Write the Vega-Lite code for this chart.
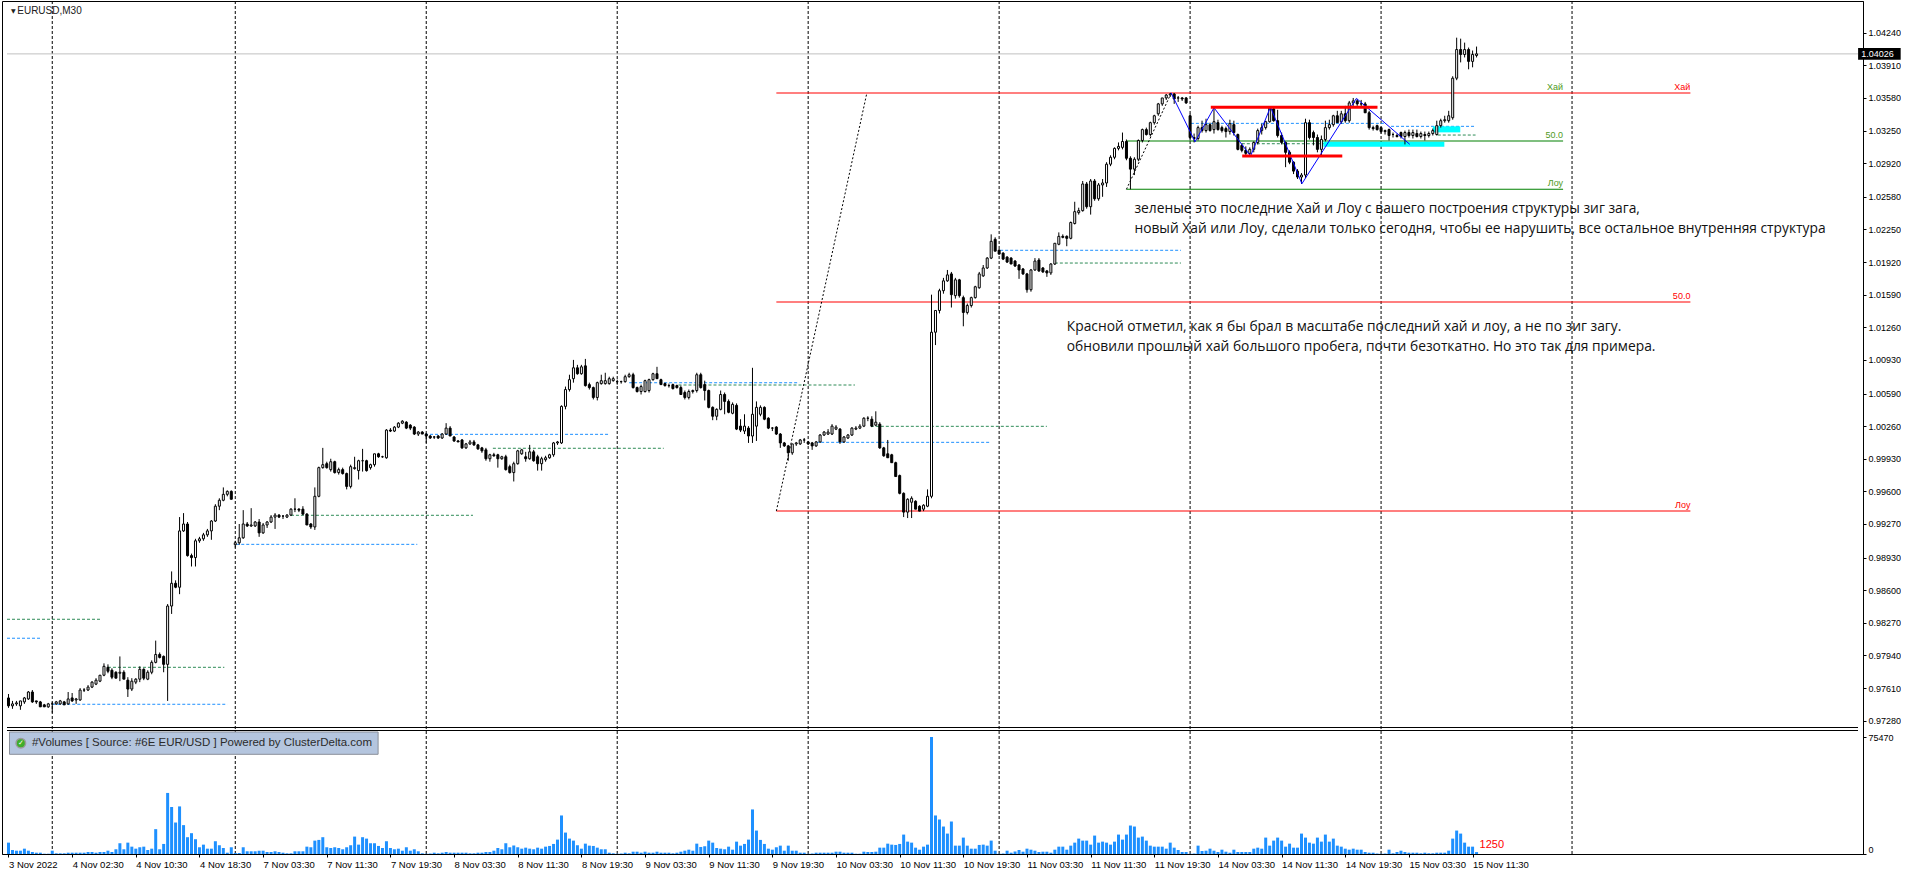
{
  "$schema": "https://vega.github.io/schema/vega-lite/v6.json",
  "background": "white",
  "width": 1861,
  "height": 853,
  "padding": {"left": 2, "top": 0, "right": 0, "bottom": 0},
  "config": {
    "view": {"stroke": "black", "strokeWidth": 1},
    "axis": {"grid": false, "labelFont": "Liberation Sans", "labelColor": "black", "domainColor": "black", "tickColor": "black"}
  },
  "datasets": {
    "bars": [
      {"i":0,"o":0.9751,"h":0.9755,"l":0.9741,"c":0.9743,"v":7330},
      {"i":1,"o":0.9743,"h":0.9748,"l":0.9740,"c":0.9745,"v":2600},
      {"i":2,"o":0.9745,"h":0.9748,"l":0.9743,"c":0.9746,"v":2140},
      {"i":3,"o":0.9743,"h":0.9748,"l":0.9739,"c":0.9748,"v":2140},
      {"i":4,"o":0.9747,"h":0.9752,"l":0.9745,"c":0.9751,"v":3440},
      {"i":5,"o":0.9750,"h":0.9758,"l":0.9749,"c":0.9757,"v":2140},
      {"i":6,"o":0.9757,"h":0.9759,"l":0.9746,"c":0.9747,"v":1300},
      {"i":7,"o":0.9748,"h":0.9748,"l":0.9745,"c":0.9747,"v":840},
      {"i":8,"o":0.9747,"h":0.9748,"l":0.9742,"c":0.9742,"v":840},
      {"i":9,"o":0.9744,"h":0.9745,"l":0.9742,"c":0.9742,"v":190},
      {"i":10,"o":0.9742,"h":0.9746,"l":0.9741,"c":0.9745,"v":190},
      {"i":11,"o":0.9745,"h":0.9747,"l":0.9736,"c":0.9745,"v":2140},
      {"i":12,"o":0.9745,"h":0.9748,"l":0.9744,"c":0.9747,"v":450},
      {"i":13,"o":0.9745,"h":0.9749,"l":0.9744,"c":0.9748,"v":450},
      {"i":14,"o":0.9747,"h":0.9748,"l":0.9744,"c":0.9744,"v":450},
      {"i":15,"o":0.9745,"h":0.9757,"l":0.9744,"c":0.9750,"v":840},
      {"i":16,"o":0.9751,"h":0.9756,"l":0.9747,"c":0.9748,"v":840},
      {"i":17,"o":0.9749,"h":0.9751,"l":0.9745,"c":0.9750,"v":840},
      {"i":18,"o":0.9749,"h":0.9761,"l":0.9748,"c":0.9759,"v":840},
      {"i":19,"o":0.9759,"h":0.9761,"l":0.9757,"c":0.9759,"v":840},
      {"i":20,"o":0.9759,"h":0.9764,"l":0.9758,"c":0.9762,"v":1300},
      {"i":21,"o":0.9762,"h":0.9768,"l":0.9761,"c":0.9767,"v":1300},
      {"i":22,"o":0.9765,"h":0.9771,"l":0.9764,"c":0.9769,"v":840},
      {"i":23,"o":0.9768,"h":0.9774,"l":0.9767,"c":0.9774,"v":1300},
      {"i":24,"o":0.9774,"h":0.9786,"l":0.9773,"c":0.9783,"v":1300},
      {"i":25,"o":0.9782,"h":0.9785,"l":0.9776,"c":0.9778,"v":2140},
      {"i":26,"o":0.9779,"h":0.9781,"l":0.9770,"c":0.9772,"v":1300},
      {"i":27,"o":0.9777,"h":0.9778,"l":0.9771,"c":0.9771,"v":3050},
      {"i":28,"o":0.9776,"h":0.9793,"l":0.9768,"c":0.9777,"v":6940},
      {"i":29,"o":0.9777,"h":0.9779,"l":0.9770,"c":0.9770,"v":3050},
      {"i":30,"o":0.9769,"h":0.9772,"l":0.9752,"c":0.9760,"v":7330},
      {"i":31,"o":0.9760,"h":0.9771,"l":0.9758,"c":0.9768,"v":4740},
      {"i":32,"o":0.9767,"h":0.9771,"l":0.9765,"c":0.9770,"v":3440},
      {"i":33,"o":0.9770,"h":0.9783,"l":0.9767,"c":0.9780,"v":4350},
      {"i":34,"o":0.9780,"h":0.9781,"l":0.9769,"c":0.9771,"v":4740},
      {"i":35,"o":0.9770,"h":0.9779,"l":0.9769,"c":0.9777,"v":2600},
      {"i":36,"o":0.9777,"h":0.9789,"l":0.9775,"c":0.9787,"v":3440},
      {"i":37,"o":0.9787,"h":0.9809,"l":0.9786,"c":0.9795,"v":16030},
      {"i":38,"o":0.9795,"h":0.9797,"l":0.9791,"c":0.9792,"v":3050},
      {"i":39,"o":0.9793,"h":0.9794,"l":0.9777,"c":0.9785,"v":6490},
      {"i":40,"o":0.9785,"h":0.9846,"l":0.9748,"c":0.9844,"v":39390},
      {"i":41,"o":0.9844,"h":0.9879,"l":0.9836,"c":0.9867,"v":30310},
      {"i":42,"o":0.9867,"h":0.9870,"l":0.9862,"c":0.9863,"v":20310},
      {"i":43,"o":0.9863,"h":0.9934,"l":0.9856,"c":0.9920,"v":30700},
      {"i":44,"o":0.9920,"h":0.9938,"l":0.9919,"c":0.9927,"v":18630},
      {"i":45,"o":0.9927,"h":0.9929,"l":0.9894,"c":0.9895,"v":10840},
      {"i":46,"o":0.9895,"h":0.9897,"l":0.9884,"c":0.9893,"v":13430},
      {"i":47,"o":0.9893,"h":0.9912,"l":0.9884,"c":0.9910,"v":9540},
      {"i":48,"o":0.9910,"h":0.9914,"l":0.9908,"c":0.9912,"v":4350},
      {"i":49,"o":0.9912,"h":0.9918,"l":0.9910,"c":0.9916,"v":6040},
      {"i":50,"o":0.9916,"h":0.9922,"l":0.9914,"c":0.9920,"v":3440},
      {"i":51,"o":0.9920,"h":0.9931,"l":0.9911,"c":0.9930,"v":3440},
      {"i":52,"o":0.9930,"h":0.9947,"l":0.9929,"c":0.9945,"v":8240},
      {"i":53,"o":0.9945,"h":0.9953,"l":0.9941,"c":0.9951,"v":5650},
      {"i":54,"o":0.9951,"h":0.9964,"l":0.9950,"c":0.9957,"v":3890},
      {"i":55,"o":0.9957,"h":0.9961,"l":0.9955,"c":0.9960,"v":840},
      {"i":56,"o":0.9960,"h":0.9961,"l":0.9952,"c":0.9952,"v":4350},
      {"i":57,"o":0.9906,"h":0.9910,"l":0.9903,"c":0.9908,"v":650},
      {"i":58,"o":0.9908,"h":0.9927,"l":0.9906,"c":0.9913,"v":650},
      {"i":59,"o":0.9913,"h":0.9941,"l":0.9912,"c":0.9927,"v":4350},
      {"i":60,"o":0.9927,"h":0.9929,"l":0.9924,"c":0.9925,"v":1750},
      {"i":61,"o":0.9925,"h":0.9943,"l":0.9924,"c":0.9926,"v":1750},
      {"i":62,"o":0.9925,"h":0.9930,"l":0.9924,"c":0.9929,"v":1750},
      {"i":63,"o":0.9929,"h":0.9932,"l":0.9914,"c":0.9918,"v":2140},
      {"i":64,"o":0.9918,"h":0.9928,"l":0.9917,"c":0.9926,"v":2140},
      {"i":65,"o":0.9926,"h":0.9930,"l":0.9923,"c":0.9929,"v":1300},
      {"i":66,"o":0.9929,"h":0.9936,"l":0.9928,"c":0.9934,"v":1300},
      {"i":67,"o":0.9934,"h":0.9938,"l":0.9922,"c":0.9936,"v":1750},
      {"i":68,"o":0.9936,"h":0.9937,"l":0.9933,"c":0.9934,"v":1300},
      {"i":69,"o":0.9935,"h":0.9936,"l":0.9932,"c":0.9935,"v":840},
      {"i":70,"o":0.9934,"h":0.9937,"l":0.9933,"c":0.9936,"v":450},
      {"i":71,"o":0.9936,"h":0.9943,"l":0.9935,"c":0.9942,"v":450},
      {"i":72,"o":0.9942,"h":0.9953,"l":0.9939,"c":0.9942,"v":1750},
      {"i":73,"o":0.9942,"h":0.9943,"l":0.9939,"c":0.9941,"v":1750},
      {"i":74,"o":0.9942,"h":0.9945,"l":0.9936,"c":0.9937,"v":1750},
      {"i":75,"o":0.9937,"h":0.9938,"l":0.9926,"c":0.9926,"v":4740},
      {"i":76,"o":0.9927,"h":0.9928,"l":0.9922,"c":0.9924,"v":4350},
      {"i":77,"o":0.9924,"h":0.9964,"l":0.9921,"c":0.9955,"v":8630},
      {"i":78,"o":0.9955,"h":0.9985,"l":0.9954,"c":0.9984,"v":9090},
      {"i":79,"o":0.9984,"h":1.0004,"l":0.9983,"c":0.9987,"v":10840},
      {"i":80,"o":0.9988,"h":0.9990,"l":0.9983,"c":0.9984,"v":4350},
      {"i":81,"o":0.9982,"h":0.9993,"l":0.9980,"c":0.9990,"v":3890},
      {"i":82,"o":0.9990,"h":0.9991,"l":0.9978,"c":0.9979,"v":4350},
      {"i":83,"o":0.9979,"h":0.9984,"l":0.9977,"c":0.9982,"v":3890},
      {"i":84,"o":0.9982,"h":0.9984,"l":0.9977,"c":0.9978,"v":3050},
      {"i":85,"o":0.9978,"h":0.9979,"l":0.9962,"c":0.9965,"v":4350},
      {"i":86,"o":0.9965,"h":0.9987,"l":0.9963,"c":0.9985,"v":5650},
      {"i":87,"o":0.9983,"h":0.9995,"l":0.9982,"c":0.9984,"v":11230},
      {"i":88,"o":0.9981,"h":0.9992,"l":0.9972,"c":0.9991,"v":6040},
      {"i":89,"o":0.9991,"h":1.0003,"l":0.9980,"c":0.9991,"v":10840},
      {"i":90,"o":0.9991,"h":0.9992,"l":0.9980,"c":0.9981,"v":9930},
      {"i":91,"o":0.9984,"h":0.9988,"l":0.9982,"c":0.9987,"v":6940},
      {"i":92,"o":0.9987,"h":0.9998,"l":0.9985,"c":0.9998,"v":6940},
      {"i":93,"o":0.9998,"h":0.9999,"l":0.9994,"c":0.9995,"v":5190},
      {"i":94,"o":0.9995,"h":0.9996,"l":0.9994,"c":0.9995,"v":3890},
      {"i":95,"o":0.9994,"h":1.0023,"l":0.9993,"c":1.0022,"v":8240},
      {"i":96,"o":1.0022,"h":1.0024,"l":1.0020,"c":1.0021,"v":3890},
      {"i":97,"o":1.0021,"h":1.0026,"l":1.0020,"c":1.0025,"v":3050},
      {"i":98,"o":1.0025,"h":1.0030,"l":1.0024,"c":1.0029,"v":3440},
      {"i":99,"o":1.0029,"h":1.0032,"l":1.0028,"c":1.0031,"v":2140},
      {"i":100,"o":1.0030,"h":1.0031,"l":1.0023,"c":1.0024,"v":4350},
      {"i":101,"o":1.0027,"h":1.0028,"l":1.0022,"c":1.0024,"v":2140},
      {"i":102,"o":1.0025,"h":1.0026,"l":1.0017,"c":1.0018,"v":3050},
      {"i":103,"o":1.0018,"h":1.0021,"l":1.0016,"c":1.0020,"v":1750},
      {"i":104,"o":1.0020,"h":1.0021,"l":1.0018,"c":1.0018,"v":450},
      {"i":105,"o":1.0018,"h":1.0019,"l":1.0009,"c":1.0016,"v":190},
      {"i":106,"o":1.0016,"h":1.0017,"l":1.0013,"c":1.0014,"v":320},
      {"i":107,"o":1.0015,"h":1.0016,"l":1.0013,"c":1.0015,"v":840},
      {"i":108,"o":1.0016,"h":1.0017,"l":1.0013,"c":1.0014,"v":450},
      {"i":109,"o":1.0014,"h":1.0019,"l":1.0013,"c":1.0018,"v":840},
      {"i":110,"o":1.0018,"h":1.0029,"l":1.0017,"c":1.0024,"v":1300},
      {"i":111,"o":1.0024,"h":1.0026,"l":1.0016,"c":1.0016,"v":840},
      {"i":112,"o":1.0015,"h":1.0016,"l":1.0010,"c":1.0011,"v":840},
      {"i":113,"o":1.0011,"h":1.0012,"l":1.0010,"c":1.0010,"v":840},
      {"i":114,"o":1.0012,"h":1.0013,"l":1.0003,"c":1.0004,"v":840},
      {"i":115,"o":1.0004,"h":1.0009,"l":1.0003,"c":1.0008,"v":840},
      {"i":116,"o":1.0008,"h":1.0012,"l":1.0007,"c":1.0010,"v":450},
      {"i":117,"o":1.0010,"h":1.0012,"l":1.0006,"c":1.0007,"v":450},
      {"i":118,"o":1.0007,"h":1.0008,"l":1.0002,"c":1.0003,"v":840},
      {"i":119,"o":1.0004,"h":1.0005,"l":0.9999,"c":1.0001,"v":840},
      {"i":120,"o":1.0002,"h":1.0004,"l":0.9991,"c":0.9993,"v":1300},
      {"i":121,"o":0.9993,"h":0.9998,"l":0.9990,"c":0.9997,"v":1300},
      {"i":122,"o":0.9997,"h":0.9999,"l":0.9995,"c":0.9996,"v":2140},
      {"i":123,"o":0.9997,"h":0.9998,"l":0.9984,"c":0.9993,"v":3890},
      {"i":124,"o":0.9993,"h":0.9996,"l":0.9992,"c":0.9995,"v":3050},
      {"i":125,"o":0.9995,"h":0.9997,"l":0.9981,"c":0.9982,"v":6940},
      {"i":126,"o":0.9985,"h":0.9987,"l":0.9978,"c":0.9979,"v":4350},
      {"i":127,"o":0.9979,"h":0.9990,"l":0.9970,"c":0.9988,"v":5520},
      {"i":128,"o":0.9988,"h":1.0002,"l":0.9987,"c":1.0001,"v":4350},
      {"i":129,"o":0.9998,"h":1.0003,"l":0.9997,"c":1.0002,"v":3440},
      {"i":130,"o":0.9995,"h":1.0000,"l":0.9990,"c":0.9993,"v":4090},
      {"i":131,"o":0.9993,"h":1.0007,"l":0.9992,"c":1.0000,"v":3440},
      {"i":132,"o":1.0000,"h":1.0002,"l":0.9990,"c":0.9991,"v":3050},
      {"i":133,"o":0.9995,"h":0.9997,"l":0.9981,"c":0.9988,"v":4090},
      {"i":134,"o":0.9988,"h":0.9995,"l":0.9981,"c":0.9993,"v":3440},
      {"i":135,"o":0.9992,"h":0.9996,"l":0.9990,"c":0.9994,"v":4740},
      {"i":136,"o":0.9994,"h":0.9998,"l":0.9993,"c":0.9997,"v":5190},
      {"i":137,"o":0.9997,"h":1.0010,"l":0.9995,"c":1.0009,"v":6490},
      {"i":138,"o":1.0009,"h":1.0011,"l":1.0007,"c":1.0010,"v":9280},
      {"i":139,"o":1.0009,"h":1.0047,"l":1.0008,"c":1.0046,"v":24860},
      {"i":140,"o":1.0046,"h":1.0066,"l":1.0043,"c":1.0063,"v":13820},
      {"i":141,"o":1.0063,"h":1.0078,"l":1.0061,"c":1.0073,"v":9930},
      {"i":142,"o":1.0074,"h":1.0093,"l":1.0070,"c":1.0085,"v":8630},
      {"i":143,"o":1.0085,"h":1.0088,"l":1.0078,"c":1.0079,"v":5650},
      {"i":144,"o":1.0079,"h":1.0088,"l":1.0078,"c":1.0086,"v":3440},
      {"i":145,"o":1.0087,"h":1.0094,"l":1.0066,"c":1.0067,"v":6680},
      {"i":146,"o":1.0068,"h":1.0070,"l":1.0063,"c":1.0065,"v":5390},
      {"i":147,"o":1.0065,"h":1.0066,"l":1.0053,"c":1.0055,"v":5190},
      {"i":148,"o":1.0055,"h":1.0071,"l":1.0052,"c":1.0070,"v":4090},
      {"i":149,"o":1.0069,"h":1.0078,"l":1.0068,"c":1.0072,"v":3050},
      {"i":150,"o":1.0069,"h":1.0080,"l":1.0068,"c":1.0072,"v":3050},
      {"i":151,"o":1.0069,"h":1.0076,"l":1.0068,"c":1.0074,"v":840},
      {"i":152,"o":1.0072,"h":1.0076,"l":1.0071,"c":1.0074,"v":450},
      {"i":153,"o":1.0071,"h":1.0073,"l":1.0068,"c":1.0071,"v":190},
      {"i":154,"o":1.0071,"h":1.0072,"l":1.0069,"c":1.0071,"v":320},
      {"i":155,"o":1.0071,"h":1.0078,"l":1.0070,"c":1.0076,"v":840},
      {"i":156,"o":1.0076,"h":1.0080,"l":1.0075,"c":1.0078,"v":450},
      {"i":157,"o":1.0078,"h":1.0080,"l":1.0064,"c":1.0065,"v":1490},
      {"i":158,"o":1.0065,"h":1.0066,"l":1.0060,"c":1.0061,"v":1490},
      {"i":159,"o":1.0061,"h":1.0068,"l":1.0058,"c":1.0066,"v":840},
      {"i":160,"o":1.0061,"h":1.0073,"l":1.0060,"c":1.0072,"v":1490},
      {"i":161,"o":1.0062,"h":1.0074,"l":1.0060,"c":1.0073,"v":840},
      {"i":162,"o":1.0073,"h":1.0080,"l":1.0072,"c":1.0079,"v":840},
      {"i":163,"o":1.0079,"h":1.0086,"l":1.0074,"c":1.0074,"v":1490},
      {"i":164,"o":1.0073,"h":1.0074,"l":1.0068,"c":1.0068,"v":840},
      {"i":165,"o":1.0069,"h":1.0070,"l":1.0066,"c":1.0067,"v":840},
      {"i":166,"o":1.0067,"h":1.0069,"l":1.0065,"c":1.0067,"v":840},
      {"i":167,"o":1.0068,"h":1.0069,"l":1.0063,"c":1.0064,"v":450},
      {"i":168,"o":1.0067,"h":1.0068,"l":1.0064,"c":1.0065,"v":840},
      {"i":169,"o":1.0065,"h":1.0067,"l":1.0058,"c":1.0058,"v":1490},
      {"i":170,"o":1.0060,"h":1.0062,"l":1.0053,"c":1.0055,"v":2140},
      {"i":171,"o":1.0055,"h":1.0063,"l":1.0053,"c":1.0061,"v":2790},
      {"i":172,"o":1.0061,"h":1.0063,"l":1.0059,"c":1.0062,"v":2140},
      {"i":173,"o":1.0062,"h":1.0080,"l":1.0060,"c":1.0078,"v":6680},
      {"i":174,"o":1.0078,"h":1.0080,"l":1.0064,"c":1.0065,"v":4540},
      {"i":175,"o":1.0068,"h":1.0072,"l":1.0052,"c":1.0062,"v":5000},
      {"i":176,"o":1.0062,"h":1.0063,"l":1.0044,"c":1.0045,"v":8630},
      {"i":177,"o":1.0045,"h":1.0046,"l":1.0032,"c":1.0036,"v":7330},
      {"i":178,"o":1.0036,"h":1.0044,"l":1.0032,"c":1.0043,"v":3890},
      {"i":179,"o":1.0043,"h":1.0062,"l":1.0042,"c":1.0058,"v":3440},
      {"i":180,"o":1.0058,"h":1.0060,"l":1.0038,"c":1.0051,"v":3050},
      {"i":181,"o":1.0051,"h":1.0053,"l":1.0039,"c":1.0040,"v":4740},
      {"i":182,"o":1.0039,"h":1.0050,"l":1.0038,"c":1.0048,"v":2790},
      {"i":183,"o":1.0047,"h":1.0049,"l":1.0022,"c":1.0023,"v":7980},
      {"i":184,"o":1.0026,"h":1.0033,"l":1.0020,"c":1.0022,"v":5390},
      {"i":185,"o":1.0021,"h":1.0038,"l":1.0018,"c":1.0026,"v":6490},
      {"i":186,"o":1.0024,"h":1.0026,"l":1.0009,"c":1.0016,"v":9280},
      {"i":187,"o":1.0016,"h":1.0085,"l":1.0009,"c":1.0038,"v":28750},
      {"i":188,"o":1.0026,"h":1.0051,"l":1.0011,"c":1.0045,"v":15120},
      {"i":189,"o":1.0038,"h":1.0047,"l":1.0036,"c":1.0045,"v":9090},
      {"i":190,"o":1.0045,"h":1.0046,"l":1.0032,"c":1.0033,"v":6490},
      {"i":191,"o":1.0034,"h":1.0035,"l":1.0023,"c":1.0024,"v":3440},
      {"i":192,"o":1.0024,"h":1.0025,"l":1.0021,"c":1.0024,"v":2790},
      {"i":193,"o":1.0025,"h":1.0026,"l":1.0017,"c":1.0018,"v":4350},
      {"i":194,"o":1.0018,"h":1.0019,"l":1.0004,"c":1.0009,"v":5390},
      {"i":195,"o":1.0009,"h":1.0010,"l":1.0005,"c":1.0006,"v":2140},
      {"i":196,"o":1.0006,"h":1.0007,"l":0.9991,"c":0.9999,"v":5390},
      {"i":197,"o":0.9999,"h":1.0008,"l":0.9997,"c":1.0008,"v":2140},
      {"i":198,"o":1.0008,"h":1.0010,"l":1.0006,"c":1.0009,"v":2140},
      {"i":199,"o":1.0008,"h":1.0013,"l":1.0007,"c":1.0012,"v":840},
      {"i":200,"o":1.0012,"h":1.0014,"l":1.0009,"c":1.0012,"v":840},
      {"i":201,"o":1.0010,"h":1.0011,"l":1.0007,"c":1.0008,"v":190},
      {"i":202,"o":1.0009,"h":1.0010,"l":1.0002,"c":1.0006,"v":320},
      {"i":203,"o":1.0006,"h":1.0011,"l":1.0005,"c":1.0010,"v":840},
      {"i":204,"o":1.0010,"h":1.0018,"l":1.0009,"c":1.0017,"v":840},
      {"i":205,"o":1.0017,"h":1.0021,"l":1.0016,"c":1.0020,"v":840},
      {"i":206,"o":1.0018,"h":1.0023,"l":1.0017,"c":1.0020,"v":840},
      {"i":207,"o":1.0018,"h":1.0028,"l":1.0017,"c":1.0026,"v":840},
      {"i":208,"o":1.0023,"h":1.0027,"l":1.0022,"c":1.0025,"v":1490},
      {"i":209,"o":1.0023,"h":1.0024,"l":1.0008,"c":1.0010,"v":1490},
      {"i":210,"o":1.0010,"h":1.0016,"l":1.0009,"c":1.0015,"v":840},
      {"i":211,"o":1.0014,"h":1.0018,"l":1.0013,"c":1.0017,"v":840},
      {"i":212,"o":1.0017,"h":1.0025,"l":1.0016,"c":1.0024,"v":840},
      {"i":213,"o":1.0023,"h":1.0026,"l":1.0022,"c":1.0024,"v":190},
      {"i":214,"o":1.0024,"h":1.0028,"l":1.0023,"c":1.0026,"v":190},
      {"i":215,"o":1.0026,"h":1.0035,"l":1.0025,"c":1.0034,"v":1490},
      {"i":216,"o":1.0034,"h":1.0036,"l":1.0031,"c":1.0034,"v":1300},
      {"i":217,"o":1.0033,"h":1.0036,"l":1.0025,"c":1.0026,"v":1300},
      {"i":218,"o":1.0027,"h":1.0041,"l":1.0026,"c":1.0030,"v":1490},
      {"i":219,"o":1.0028,"h":1.0030,"l":1.0003,"c":1.0004,"v":4090},
      {"i":220,"o":1.0004,"h":1.0005,"l":0.9995,"c":0.9996,"v":4090},
      {"i":221,"o":0.9998,"h":1.0012,"l":0.9994,"c":0.9994,"v":6680},
      {"i":222,"o":0.9997,"h":0.9998,"l":0.9989,"c":0.9989,"v":6040},
      {"i":223,"o":0.9989,"h":0.9990,"l":0.9975,"c":0.9975,"v":5840},
      {"i":224,"o":0.9976,"h":0.9977,"l":0.9957,"c":0.9958,"v":6490},
      {"i":225,"o":0.9958,"h":0.9959,"l":0.9934,"c":0.9939,"v":12530},
      {"i":226,"o":0.9939,"h":0.9953,"l":0.9933,"c":0.9952,"v":7980},
      {"i":227,"o":0.9949,"h":0.9955,"l":0.9933,"c":0.9953,"v":7330},
      {"i":228,"o":0.9950,"h":0.9951,"l":0.9942,"c":0.9942,"v":4090},
      {"i":229,"o":0.9945,"h":0.9946,"l":0.9940,"c":0.9940,"v":2790},
      {"i":230,"o":0.9942,"h":0.9947,"l":0.9940,"c":0.9946,"v":4740},
      {"i":231,"o":0.9945,"h":0.9962,"l":0.9944,"c":0.9955,"v":6040},
      {"i":232,"o":0.9955,"h":1.0159,"l":0.9953,"c":1.0121,"v":75470},
      {"i":233,"o":1.0121,"h":1.0143,"l":1.0108,"c":1.0143,"v":24860},
      {"i":234,"o":1.0143,"h":1.0165,"l":1.0140,"c":1.0163,"v":22260},
      {"i":235,"o":1.0163,"h":1.0176,"l":1.0160,"c":1.0173,"v":17720},
      {"i":236,"o":1.0173,"h":1.0184,"l":1.0172,"c":1.0179,"v":13170},
      {"i":237,"o":1.0180,"h":1.0182,"l":1.0146,"c":1.0159,"v":20960},
      {"i":238,"o":1.0158,"h":1.0176,"l":1.0155,"c":1.0174,"v":5390},
      {"i":239,"o":1.0174,"h":1.0175,"l":1.0156,"c":1.0158,"v":5390},
      {"i":240,"o":1.0156,"h":1.0158,"l":1.0127,"c":1.0141,"v":10580},
      {"i":241,"o":1.0141,"h":1.0150,"l":1.0139,"c":1.0148,"v":5390},
      {"i":242,"o":1.0148,"h":1.0157,"l":1.0146,"c":1.0156,"v":3440},
      {"i":243,"o":1.0156,"h":1.0168,"l":1.0155,"c":1.0167,"v":3440},
      {"i":244,"o":1.0166,"h":1.0182,"l":1.0165,"c":1.0180,"v":5840},
      {"i":245,"o":1.0178,"h":1.0189,"l":1.0177,"c":1.0186,"v":6040},
      {"i":246,"o":1.0186,"h":1.0197,"l":1.0185,"c":1.0196,"v":5390},
      {"i":247,"o":1.0196,"h":1.0220,"l":1.0195,"c":1.0213,"v":8630},
      {"i":248,"o":1.0215,"h":1.0217,"l":1.0203,"c":1.0203,"v":2140},
      {"i":249,"o":1.0204,"h":1.0205,"l":1.0200,"c":1.0200,"v":190},
      {"i":250,"o":1.0201,"h":1.0202,"l":1.0194,"c":1.0195,"v":320},
      {"i":251,"o":1.0197,"h":1.0198,"l":1.0191,"c":1.0192,"v":2140},
      {"i":252,"o":1.0196,"h":1.0197,"l":1.0190,"c":1.0190,"v":840},
      {"i":253,"o":1.0193,"h":1.0194,"l":1.0187,"c":1.0188,"v":1620},
      {"i":254,"o":1.0189,"h":1.0190,"l":1.0175,"c":1.0184,"v":2600},
      {"i":255,"o":1.0185,"h":1.0186,"l":1.0179,"c":1.0180,"v":1490},
      {"i":256,"o":1.0180,"h":1.0181,"l":1.0161,"c":1.0164,"v":3440},
      {"i":257,"o":1.0164,"h":1.0185,"l":1.0162,"c":1.0184,"v":2790},
      {"i":258,"o":1.0184,"h":1.0196,"l":1.0183,"c":1.0193,"v":2140},
      {"i":259,"o":1.0194,"h":1.0196,"l":1.0182,"c":1.0183,"v":1300},
      {"i":260,"o":1.0186,"h":1.0187,"l":1.0181,"c":1.0182,"v":1490},
      {"i":261,"o":1.0183,"h":1.0184,"l":1.0177,"c":1.0181,"v":1490},
      {"i":262,"o":1.0181,"h":1.0191,"l":1.0179,"c":1.0190,"v":840},
      {"i":263,"o":1.0190,"h":1.0211,"l":1.0189,"c":1.0211,"v":2790},
      {"i":264,"o":1.0210,"h":1.0222,"l":1.0209,"c":1.0218,"v":4740},
      {"i":265,"o":1.0218,"h":1.0220,"l":1.0216,"c":1.0217,"v":4740},
      {"i":266,"o":1.0218,"h":1.0219,"l":1.0208,"c":1.0216,"v":2790},
      {"i":267,"o":1.0216,"h":1.0233,"l":1.0215,"c":1.0232,"v":5390},
      {"i":268,"o":1.0231,"h":1.0253,"l":1.0230,"c":1.0243,"v":7330},
      {"i":269,"o":1.0242,"h":1.0247,"l":1.0240,"c":1.0244,"v":9930},
      {"i":270,"o":1.0244,"h":1.0274,"l":1.0243,"c":1.0271,"v":8630},
      {"i":271,"o":1.0271,"h":1.0273,"l":1.0246,"c":1.0248,"v":8630},
      {"i":272,"o":1.0248,"h":1.0276,"l":1.0240,"c":1.0274,"v":6040},
      {"i":273,"o":1.0274,"h":1.0276,"l":1.0254,"c":1.0256,"v":11880},
      {"i":274,"o":1.0256,"h":1.0272,"l":1.0254,"c":1.0270,"v":7330},
      {"i":275,"o":1.0270,"h":1.0276,"l":1.0258,"c":1.0272,"v":7980},
      {"i":276,"o":1.0272,"h":1.0293,"l":1.0268,"c":1.0291,"v":7330},
      {"i":277,"o":1.0291,"h":1.0300,"l":1.0289,"c":1.0298,"v":6040},
      {"i":278,"o":1.0298,"h":1.0308,"l":1.0296,"c":1.0307,"v":7980},
      {"i":279,"o":1.0307,"h":1.0313,"l":1.0305,"c":1.0309,"v":12530},
      {"i":280,"o":1.0308,"h":1.0323,"l":1.0306,"c":1.0314,"v":9280},
      {"i":281,"o":1.0314,"h":1.0316,"l":1.0295,"c":1.0297,"v":12530},
      {"i":282,"o":1.0297,"h":1.0299,"l":1.02656,"c":1.0286,"v":18370},
      {"i":283,"o":1.0286,"h":1.0298,"l":1.0280,"c":1.0296,"v":17720},
      {"i":284,"o":1.0296,"h":1.0316,"l":1.0294,"c":1.0315,"v":10580},
      {"i":285,"o":1.0315,"h":1.0327,"l":1.0313,"c":1.0326,"v":11230},
      {"i":286,"o":1.0326,"h":1.0328,"l":1.0320,"c":1.0321,"v":8630},
      {"i":287,"o":1.0321,"h":1.0334,"l":1.0319,"c":1.0333,"v":5390},
      {"i":288,"o":1.0333,"h":1.0341,"l":1.0331,"c":1.0340,"v":4740},
      {"i":289,"o":1.0342,"h":1.0353,"l":1.0340,"c":1.0352,"v":4740},
      {"i":290,"o":1.0352,"h":1.0358,"l":1.0350,"c":1.0358,"v":4740},
      {"i":291,"o":1.0358,"h":1.0362,"l":1.0356,"c":1.0361,"v":3440},
      {"i":292,"o":1.0361,"h":1.0363,"l":1.0359,"c":1.0362,"v":7330},
      {"i":293,"o":1.0362,"h":1.0363,"l":1.0352,"c":1.0357,"v":4090},
      {"i":294,"o":1.0358,"h":1.0360,"l":1.0354,"c":1.0358,"v":2600},
      {"i":295,"o":1.0358,"h":1.0359,"l":1.0355,"c":1.0357,"v":1300},
      {"i":296,"o":1.0358,"h":1.0359,"l":1.0352,"c":1.0353,"v":1300},
      {"i":297,"o":1.0340,"h":1.0342,"l":1.0315,"c":1.0318,"v":190},
      {"i":298,"o":1.0318,"h":1.0322,"l":1.0313,"c":1.0317,"v":320},
      {"i":299,"o":1.0317,"h":1.0330,"l":1.0315,"c":1.0328,"v":5390},
      {"i":300,"o":1.0328,"h":1.0335,"l":1.0323,"c":1.0325,"v":1950},
      {"i":301,"o":1.0325,"h":1.0337,"l":1.0323,"c":1.0331,"v":2140},
      {"i":302,"o":1.0331,"h":1.0333,"l":1.0324,"c":1.0325,"v":3440},
      {"i":303,"o":1.0326,"h":1.0348,"l":1.0322,"c":1.0334,"v":2140},
      {"i":304,"o":1.0333,"h":1.0336,"l":1.0325,"c":1.0326,"v":1300},
      {"i":305,"o":1.0328,"h":1.0330,"l":1.0323,"c":1.0325,"v":2790},
      {"i":306,"o":1.0327,"h":1.0329,"l":1.0318,"c":1.0324,"v":1490},
      {"i":307,"o":1.0324,"h":1.0336,"l":1.0321,"c":1.0332,"v":840},
      {"i":308,"o":1.0331,"h":1.0335,"l":1.0320,"c":1.0323,"v":2790},
      {"i":309,"o":1.0321,"h":1.0322,"l":1.0305,"c":1.0306,"v":1300},
      {"i":310,"o":1.0310,"h":1.0312,"l":1.0303,"c":1.0305,"v":1300},
      {"i":311,"o":1.0305,"h":1.0309,"l":1.0300,"c":1.0302,"v":1300},
      {"i":312,"o":1.0302,"h":1.0308,"l":1.0299,"c":1.0306,"v":1300},
      {"i":313,"o":1.0306,"h":1.0314,"l":1.0303,"c":1.0313,"v":3440},
      {"i":314,"o":1.0313,"h":1.0327,"l":1.0311,"c":1.0325,"v":4090},
      {"i":315,"o":1.0325,"h":1.0332,"l":1.0321,"c":1.0328,"v":3440},
      {"i":316,"o":1.0328,"h":1.0335,"l":1.0326,"c":1.0334,"v":10580},
      {"i":317,"o":1.0334,"h":1.0349,"l":1.0333,"c":1.0348,"v":5390},
      {"i":318,"o":1.0347,"h":1.0349,"l":1.0334,"c":1.0335,"v":8630},
      {"i":319,"o":1.0335,"h":1.0346,"l":1.0318,"c":1.0320,"v":10580},
      {"i":320,"o":1.0320,"h":1.0323,"l":1.0311,"c":1.0313,"v":8630},
      {"i":321,"o":1.0313,"h":1.0314,"l":1.0288,"c":1.0303,"v":4740},
      {"i":322,"o":1.0303,"h":1.0305,"l":1.0291,"c":1.0293,"v":6680},
      {"i":323,"o":1.0293,"h":1.0294,"l":1.0281,"c":1.0284,"v":4090},
      {"i":324,"o":1.0284,"h":1.0286,"l":1.0276,"c":1.0278,"v":4090},
      {"i":325,"o":1.0278,"h":1.0282,"l":1.0271,"c":1.0280,"v":13170},
      {"i":326,"o":1.0280,"h":1.0337,"l":1.0277,"c":1.0333,"v":10580},
      {"i":327,"o":1.0333,"h":1.0336,"l":1.0316,"c":1.0318,"v":7330},
      {"i":328,"o":1.0323,"h":1.0325,"l":1.0310,"c":1.0318,"v":6680},
      {"i":329,"o":1.0318,"h":1.0321,"l":1.0303,"c":1.0306,"v":10580},
      {"i":330,"o":1.0306,"h":1.0320,"l":1.0299,"c":1.0316,"v":7980},
      {"i":331,"o":1.0316,"h":1.0335,"l":1.0314,"c":1.0328,"v":12530},
      {"i":332,"o":1.0328,"h":1.0336,"l":1.0326,"c":1.0331,"v":7980},
      {"i":333,"o":1.0331,"h":1.0341,"l":1.0329,"c":1.0340,"v":9930},
      {"i":334,"o":1.0340,"h":1.0345,"l":1.0333,"c":1.0333,"v":5390},
      {"i":335,"o":1.0334,"h":1.0345,"l":1.0332,"c":1.0342,"v":4740},
      {"i":336,"o":1.0342,"h":1.0350,"l":1.0333,"c":1.0335,"v":3440},
      {"i":337,"o":1.0335,"h":1.0355,"l":1.0333,"c":1.0353,"v":2790},
      {"i":338,"o":1.0353,"h":1.0358,"l":1.0350,"c":1.0355,"v":3440},
      {"i":339,"o":1.0355,"h":1.0357,"l":1.0350,"c":1.0352,"v":2790},
      {"i":340,"o":1.0352,"h":1.0356,"l":1.0349,"c":1.0352,"v":2790},
      {"i":341,"o":1.0352,"h":1.0354,"l":1.0343,"c":1.0343,"v":1300},
      {"i":342,"o":1.0343,"h":1.0345,"l":1.0326,"c":1.0328,"v":840},
      {"i":343,"o":1.0328,"h":1.0330,"l":1.0325,"c":1.0327,"v":840},
      {"i":344,"o":1.0330,"h":1.0331,"l":1.0325,"c":1.0326,"v":320},
      {"i":345,"o":1.0328,"h":1.0329,"l":1.0322,"c":1.0324,"v":190},
      {"i":346,"o":1.0324,"h":1.0326,"l":1.0321,"c":1.0325,"v":320},
      {"i":347,"o":1.0326,"h":1.0327,"l":1.0315,"c":1.0320,"v":2790},
      {"i":348,"o":1.0321,"h":1.0323,"l":1.0318,"c":1.0321,"v":450},
      {"i":349,"o":1.0320,"h":1.0322,"l":1.0318,"c":1.0319,"v":1300},
      {"i":350,"o":1.0323,"h":1.0324,"l":1.0317,"c":1.0319,"v":2140},
      {"i":351,"o":1.0319,"h":1.0325,"l":1.0311,"c":1.0323,"v":1300},
      {"i":352,"o":1.0323,"h":1.0326,"l":1.0318,"c":1.0320,"v":840},
      {"i":353,"o":1.0320,"h":1.0326,"l":1.0317,"c":1.0323,"v":840},
      {"i":354,"o":1.0322,"h":1.0326,"l":1.0318,"c":1.0319,"v":840},
      {"i":355,"o":1.0319,"h":1.0324,"l":1.0317,"c":1.0322,"v":450},
      {"i":356,"o":1.0321,"h":1.0324,"l":1.0315,"c":1.0320,"v":840},
      {"i":357,"o":1.0320,"h":1.0324,"l":1.0318,"c":1.0322,"v":450},
      {"i":358,"o":1.0322,"h":1.0327,"l":1.0320,"c":1.0325,"v":450},
      {"i":359,"o":1.0321,"h":1.0335,"l":1.0320,"c":1.0330,"v":840},
      {"i":360,"o":1.0330,"h":1.0337,"l":1.0328,"c":1.0335,"v":840},
      {"i":361,"o":1.0335,"h":1.0340,"l":1.0333,"c":1.0336,"v":840},
      {"i":362,"o":1.0335,"h":1.0345,"l":1.0333,"c":1.0340,"v":2140},
      {"i":363,"o":1.0338,"h":1.0380,"l":1.0336,"c":1.0378,"v":9930},
      {"i":364,"o":1.0378,"h":1.0419,"l":1.0376,"c":1.0407,"v":15120},
      {"i":365,"o":1.0407,"h":1.0418,"l":1.0394,"c":1.0402,"v":13170},
      {"i":366,"o":1.0402,"h":1.0414,"l":1.0399,"c":1.0407,"v":7330},
      {"i":367,"o":1.0407,"h":1.0409,"l":1.0387,"c":1.0395,"v":4740},
      {"i":368,"o":1.0395,"h":1.0406,"l":1.0389,"c":1.0402,"v":4740},
      {"i":369,"o":1.0401,"h":1.0410,"l":1.0399,"c":1.04026,"v":1250}
    ],
    "seps": [{"i":11},{"i":57},{"i":105},{"i":153},{"i":201},{"i":249},{"i":297},{"i":345},{"i":393}],
    "dash": [
      {"k":"green","i":-0.375,"i2":23,"p":0.98306},
      {"k":"blue","i":-0.375,"i2":8.25,"p":0.98114},
      {"k":"green","i":25,"i2":54.25,"p":0.9782},
      {"k":"blue","i":11,"i2":55,"p":0.97446},
      {"k":"blue","i":57.25,"i2":102.75,"p":0.99064},
      {"k":"green","i":71,"i2":116.75,"p":0.99358},
      {"k":"blue","i":104.7,"i2":151,"p":1.00177},
      {"k":"green","i":121.75,"i2":164.7,"p":1.00036},
      {"k":"blue","i":156,"i2":198.75,"p":1.00699},
      {"k":"green","i":168.4,"i2":212.75,"p":1.00676},
      {"k":"green","i":216.75,"i2":261,"p":1.00258},
      {"k":"blue","i":203,"i2":246.75,"p":1.00096},
      {"k":"blue","i":249.25,"i2":294.7,"p":1.02039},
      {"k":"green","i":263,"i2":294.7,"p":1.0191},
      {"k":"blue","i":297.2,"i2":345.75,"p":1.03323},
      {"k":"blue","i":347.5,"i2":368.4,"p":1.03293},
      {"k":"green","i":310,"i2":331.75,"p":1.03117},
      {"k":"green","i":359.25,"i2":368.75,"p":1.03205}
    ],
    "levels": [
      {"set":"green","p":1.03144,"i":281,"i2":390.75},
      {"set":"green","p":1.02656,"i":281,"i2":390.75},
      {"set":"red","p":1.0363,"i":193,"i2":422.75},
      {"set":"red","p":1.01516,"i":193,"i2":422.75},
      {"set":"red","p":0.99401,"i":193,"i2":422.75}
    ],
    "levelLabels": [
      {"set":"green","t":"Хай","p":1.0363,"i":390.75},
      {"set":"green","t":"50.0","p":1.03144,"i":390.75},
      {"set":"green","t":"Лоу","p":1.02656,"i":390.75},
      {"set":"red","t":"Хай","p":1.0363,"i":422.75},
      {"set":"red","t":"50.0","p":1.01516,"i":422.75},
      {"set":"red","t":"Лоу","p":0.99401,"i":422.75}
    ],
    "fib": [
      {"i":193,"p":0.99401,"i2":215.75,"p2":1.0363},
      {"i":281,"p":1.02656,"i2":292.25,"p2":1.0363}
    ],
    "zigzag": [
      {"i":292.2,"p":1.03633},
      {"i":298.25,"p":1.03137},
      {"i":303,"p":1.03481},
      {"i":312.2,"p":1.02993},
      {"i":317.2,"p":1.03488},
      {"i":325.1,"p":1.02712},
      {"i":338.8,"p":1.03576},
      {"i":352.2,"p":1.03111}
    ],
    "thick": [
      {"i":302.2,"i2":344.1,"p":1.03487},
      {"i":310.1,"i2":335.25,"p":1.02993}
    ],
    "zones": [
      {"i":330.5,"i2":360.9,"p":1.03137,"p2":1.03087},
      {"i":358,"i2":364.9,"p":1.03293,"p2":1.03232}
    ],
    "notes": [
      {"i":283,"p":1.02457,"t":"зеленые это последние Хай и Лоу с вашего построения структуры зиг зага,"},
      {"i":283,"p":1.02254,"t":"новый Хай или Лоу, сделали только сегодня, чтобы ее нарушить, все остальное внутренняя структура"},
      {"i":266,"p":1.01263,"t":"Красной отметил, как я бы брал в масштабе последний хай и лоу, а не по зиг загу."},
      {"i":266,"p":1.01061,"t":"обновили прошлый хай большого пробега, почти безоткатно. Но это так для примера."}
    ]
  },
  "encoding": {
    "x": {
      "field": "i", "type": "quantitative",
      "scale": {"domain": [-0.375, 464.875], "nice": false, "zero": false},
      "axis": {
        "values": [0, 16, 32, 48, 64, 80, 96, 112, 128, 144, 160, 176, 192, 208, 224, 240, 256, 272, 288, 304, 320, 336, 352, 368],
        "labelExpr": "['3 Nov 2022','4 Nov 02:30','4 Nov 10:30','4 Nov 18:30','7 Nov 03:30','7 Nov 11:30','7 Nov 19:30','8 Nov 03:30','8 Nov 11:30','8 Nov 19:30','9 Nov 03:30','9 Nov 11:30','9 Nov 19:30','10 Nov 03:30','10 Nov 11:30','10 Nov 19:30','11 Nov 03:30','11 Nov 11:30','11 Nov 19:30','14 Nov 03:30','14 Nov 11:30','14 Nov 19:30','15 Nov 03:30','15 Nov 11:30'][round(datum.value / 16)]",
        "labelAlign": "left",
        "labelFontSize": 9.5,
        "tickSize": 3,
        "labelPadding": 2,
        "labelOverlap": false,
        "labelFlush": false,
        "labelBound": false,
        "title": null
      }
    }
  },
  "resolve": {"scale": {"y": "independent"}, "axis": {"y": "independent"}},
  "layer": [
    {
      "data": {"name": "seps"},
      "mark": {"type": "rule", "color": "black", "strokeWidth": 1, "strokeDash": [3, 2]},
      "encoding": {}
    },
    {
      "encoding": {
        "y": {
          "field": "p", "type": "quantitative",
          "scale": {"domain": [0.97206, 1.04561], "range": [727, 0], "nice": false, "zero": false},
          "axis": {
            "orient": "right",
            "values": [1.0424, 1.0391, 1.0358, 1.0325, 1.0292, 1.0258, 1.0225, 1.0192, 1.0159, 1.0126, 1.0093, 1.0059, 1.0026, 0.9993, 0.996, 0.9927, 0.9893, 0.986, 0.9827, 0.9794, 0.9761, 0.9728],
            "format": ".5f",
            "labelFontSize": 9,
            "tickSize": 3,
            "labelPadding": 2,
            "labelOverlap": false,
            "labelFlush": false,
            "labelBound": false,
            "title": null
          }
        }
      },
      "layer": [
        {
          "data": {"values": [{"i": -0.375, "i2": 464.875, "p": 1.04026}]},
          "mark": {"type": "rule", "color": "#c0c0c0", "strokeWidth": 1},
          "encoding": {"x2": {"field": "i2"}}
        },
        {
          "data": {"values": [{"i": -0.375, "i2": 464.875, "p": 0.97211}]},
          "mark": {"type": "rule", "color": "black", "strokeWidth": 1},
          "encoding": {"x2": {"field": "i2"}}
        },
        {
          "data": {"name": "dash"},
          "mark": {"type": "rule", "strokeWidth": 1, "strokeDash": [3, 2]},
          "encoding": {
            "x2": {"field": "i2"},
            "stroke": {"field": "k", "type": "nominal", "scale": {"domain": ["blue", "green"], "range": ["#1e90ff", "#2e8b57"]}, "legend": null}
          }
        },
        {
          "data": {"name": "levels"},
          "transform": [{"filter": "datum.set == 'green'"}],
          "mark": {"type": "rule", "color": "#008000", "strokeWidth": 1.1},
          "encoding": {"x2": {"field": "i2"}}
        },
        {
          "data": {"name": "levels"},
          "transform": [{"filter": "datum.set == 'red'"}],
          "mark": {"type": "rule", "color": "#ff0000", "strokeWidth": 1.1},
          "encoding": {"x2": {"field": "i2"}}
        },
        {
          "data": {"name": "fib"},
          "mark": {"type": "rule", "color": "black", "strokeWidth": 1, "strokeDash": [2, 2]},
          "encoding": {"x2": {"field": "i2"}, "y2": {"field": "p2"}}
        },
        {
          "data": {"name": "zones"},
          "mark": {"type": "rect", "color": "#00ffff"},
          "encoding": {"x2": {"field": "i2"}, "y2": {"field": "p2"}}
        },
        {
          "data": {"name": "bars"},
          "mark": {"type": "rule", "color": "black", "strokeWidth": 1},
          "encoding": {
            "y": {
              "field": "l", "type": "quantitative",
              "scale": {"domain": [0.97206, 1.04561], "range": [727, 0], "nice": false, "zero": false},
              "axis": {
                "orient": "right",
                "values": [1.0424, 1.0391, 1.0358, 1.0325, 1.0292, 1.0258, 1.0225, 1.0192, 1.0159, 1.0126, 1.0093, 1.0059, 1.0026, 0.9993, 0.996, 0.9927, 0.9893, 0.986, 0.9827, 0.9794, 0.9761, 0.9728],
                "format": ".5f",
                "labelFontSize": 9,
                "tickSize": 3,
                "labelPadding": 2,
                "labelOverlap": false,
                "labelFlush": false,
                "labelBound": false,
                "title": null
              }
            },
            "y2": {"field": "h"}
          }
        },
        {
          "data": {"name": "bars"},
          "mark": {"type": "bar", "width": 2, "stroke": "black", "strokeWidth": 1},
          "encoding": {
            "y": {
              "field": "o", "type": "quantitative",
              "scale": {"domain": [0.97206, 1.04561], "range": [727, 0], "nice": false, "zero": false},
              "axis": {
                "orient": "right",
                "values": [1.0424, 1.0391, 1.0358, 1.0325, 1.0292, 1.0258, 1.0225, 1.0192, 1.0159, 1.0126, 1.0093, 1.0059, 1.0026, 0.9993, 0.996, 0.9927, 0.9893, 0.986, 0.9827, 0.9794, 0.9761, 0.9728],
                "format": ".5f",
                "labelFontSize": 9,
                "tickSize": 3,
                "labelPadding": 2,
                "labelOverlap": false,
                "labelFlush": false,
                "labelBound": false,
                "title": null
              }
            },
            "y2": {"field": "c"},
            "fill": {"condition": {"test": "datum.c < datum.o", "value": "black"}, "value": "white"}
          }
        },
        {
          "data": {"name": "zigzag"},
          "mark": {"type": "line", "color": "#0000ff", "strokeWidth": 1},
          "encoding": {}
        },
        {
          "data": {"name": "thick"},
          "mark": {"type": "rule", "color": "#ff0000", "strokeWidth": 3},
          "encoding": {"x2": {"field": "i2"}}
        },
        {
          "data": {"name": "levelLabels"},
          "transform": [{"filter": "datum.set == 'green'"}],
          "mark": {"type": "text", "align": "right", "baseline": "bottom", "dy": -1, "font": "Liberation Sans", "fontSize": 9, "color": "#4f9a1c"},
          "encoding": {"text": {"field": "t"}}
        },
        {
          "data": {"name": "levelLabels"},
          "transform": [{"filter": "datum.set == 'red'"}],
          "mark": {"type": "text", "align": "right", "baseline": "bottom", "dy": -1, "font": "Liberation Sans", "fontSize": 9, "color": "#ff0000"},
          "encoding": {"text": {"field": "t"}}
        },
        {
          "data": {"name": "notes"},
          "mark": {"type": "text", "align": "left", "baseline": "middle", "font": "Open Sans", "fontSize": 13.8, "color": "#111111"},
          "encoding": {"text": {"field": "t"}}
        },
        {
          "data": {"values": [{"i": 0.6, "p": 1.0446, "t": "▼"}]},
          "mark": {"type": "text", "align": "left", "baseline": "middle", "font": "DejaVu Sans", "fontSize": 6, "color": "#202020"},
          "encoding": {"text": {"field": "t"}}
        },
        {
          "data": {"values": [{"i": 2.2, "p": 1.0446, "t": "EURUSD,M30"}]},
          "mark": {"type": "text", "align": "left", "baseline": "middle", "font": "Liberation Sans", "fontSize": 10, "color": "#202020"},
          "encoding": {"text": {"field": "t"}}
        },
        {
          "data": {"values": [{"i": 464.9, "i2": 475.6, "p": 1.04086, "p2": 1.03966}]},
          "mark": {"type": "rect", "color": "black", "clip": false},
          "encoding": {"x2": {"field": "i2"}, "y2": {"field": "p2"}}
        },
        {
          "data": {"values": [{"i": 465.7, "p": 1.04026, "t": "1.04026"}]},
          "mark": {"type": "text", "align": "left", "baseline": "middle", "font": "Liberation Sans", "fontSize": 9, "color": "white", "clip": false},
          "encoding": {"text": {"field": "t"}}
        }
      ]
    },
    {
      "encoding": {
        "y": {
          "field": "v", "type": "quantitative",
          "scale": {"domain": [0, 80000], "range": [853, 729], "nice": false, "zero": true},
          "axis": {
            "orient": "right",
            "values": [0, 75470],
            "format": "d",
            "labelFontSize": 9,
            "tickSize": 3,
            "labelPadding": 2,
            "labelFlush": true,
            "labelOverlap": false,
            "title": null
          }
        }
      },
      "layer": [
        {
          "data": {"values": [{"i": -0.375, "i2": 464.875, "v": 79677}]},
          "mark": {"type": "rule", "color": "black", "strokeWidth": 1},
          "encoding": {"x2": {"field": "i2"}}
        },
        {
          "data": {"name": "bars"},
          "mark": {"type": "bar", "width": 3, "color": "#1e90ff"},
          "encoding": {}
        },
        {
          "data": {"values": [{"i": 0.25, "i2": 92.9, "v": 78710, "v2": 64320}]},
          "mark": {"type": "rect", "fill": "#b4c5de", "stroke": "#8a8f99", "strokeWidth": 1},
          "encoding": {"x2": {"field": "i2"}, "y2": {"field": "v2"}}
        },
        {
          "data": {"values": [{"i": 3.1, "v": 71500}]},
          "mark": {"type": "point", "shape": "circle", "size": 90, "filled": true, "fill": "#3fae2a", "stroke": "#9a9a9a", "strokeWidth": 1.5, "opacity": 1},
          "encoding": {}
        },
        {
          "data": {"values": [{"i": 3.1, "v": 71500, "t": "✓"}]},
          "mark": {"type": "text", "align": "center", "baseline": "middle", "font": "DejaVu Sans", "fontSize": 7, "fontWeight": "bold", "color": "white"},
          "encoding": {"text": {"field": "t"}}
        },
        {
          "data": {"values": [{"i": 5.9, "v": 71500, "t": "#Volumes [ Source: #6E EUR/USD ] Powered by ClusterDelta.com"}]},
          "mark": {"type": "text", "align": "left", "baseline": "middle", "font": "Liberation Sans", "fontSize": 11.5, "color": "#2b2b2b"},
          "encoding": {"text": {"field": "t"}}
        },
        {
          "data": {"values": [{"i": 369, "v": 1250, "t": "1250"}]},
          "mark": {"type": "text", "align": "left", "baseline": "middle", "dx": 3, "dy": -7, "font": "Liberation Sans", "fontSize": 11, "color": "#ff0000"},
          "encoding": {"text": {"field": "t"}}
        }
      ]
    }
  ]
}
